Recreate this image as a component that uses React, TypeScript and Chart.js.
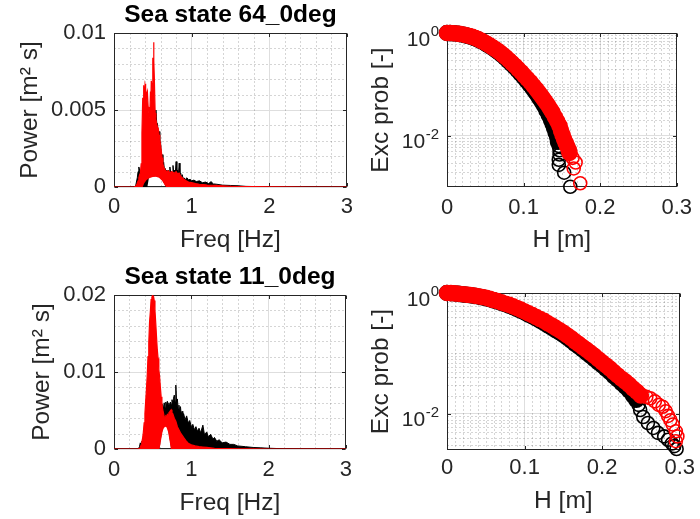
import React, { useEffect, useRef } from "react";
import { Chart, registerables } from "chart.js";

Chart.register(...registerables);

type Pt = [number, number];

const FONT = "'Liberation Sans', Arial, Helvetica, sans-serif";
const TEXT = "#262626";
const RED = "#ff0000";
const BLACK = "#000000";
const GRID = "#dedede";
const MINOR = "rgba(0,0,0,0.33)";

// ---------- texts ----------
const title64 = "Sea state 64_0deg";
const title11 = "Sea state 11_0deg";
const freqLabel = "Freq [Hz]";
const powerLabel = "Power [m\u00b2 s]";
const heightLabel = "H [m]";
const probLabel = "Exc prob [-]";

// ---------- tick values ----------
const freqTicks = [0, 1, 2, 3];
const power64Ticks = [0, 0.005, 0.01];
const power11Ticks = [0, 0.01, 0.02];
const heightTicks = [0, 0.1, 0.2, 0.3];
const probTicks = [0.01, 1];

// ---------- Sea state 64 spectrum: envelopes of the dense trace [freq Hz, power m^2 s] ----------
const spec64RedUpper: Pt[] = [
  [0, 0], [0.26, 0], [0.28, 0.00005], [0.3, 0.00025], [0.31, 0.0004], [0.32, 0.0006], [0.33, 0.0008],
  [0.34, 0.0009], [0.35, 0.0015], [0.36, 0.0035], [0.37, 0.0058], [0.375, 0.005], [0.38, 0.0063],
  [0.385, 0.0066], [0.39, 0.006], [0.395, 0.0056], [0.4, 0.0066], [0.405, 0.0067], [0.41, 0.0064],
  [0.42, 0.0057], [0.425, 0.0061], [0.43, 0.0062], [0.44, 0.0052], [0.45, 0.0048], [0.46, 0.0045],
  [0.47, 0.0062], [0.475, 0.0056], [0.48, 0.0069], [0.49, 0.0065], [0.5, 0.0084], [0.505, 0.0078],
  [0.51, 0.0094], [0.515, 0.0082], [0.52, 0.007], [0.53, 0.0048], [0.54, 0.0044], [0.55, 0.0041],
  [0.56, 0.0039], [0.57, 0.0038], [0.58, 0.0034], [0.59, 0.0031], [0.6, 0.0027], [0.61, 0.0023],
  [0.62, 0.0019], [0.63, 0.0015], [0.64, 0.0013], [0.66, 0.0011], [0.68, 0.001], [0.7, 0.00105],
  [0.72, 0.0009], [0.74, 0.001], [0.76, 0.00095], [0.78, 0.0009], [0.8, 0.001], [0.82, 0.00085],
  [0.84, 0.0009], [0.86, 0.0007], [0.88, 0.0006], [0.9, 0.0005], [0.93, 0.0004], [0.96, 0.00032],
  [1.0, 0.00028], [1.05, 0.00022], [1.1, 0.00018], [1.15, 0.00016], [1.2, 0.00013], [1.3, 0.0001],
  [1.4, 0.00007], [1.5, 0.00005], [1.6, 0.00003], [1.8, 0.00002], [2.0, 0.00001], [2.5, 0], [3.0, 0],
];
const spec64RedLower: Pt[] = [
  [0, 0], [0.37, 0], [0.39, 0.00025], [0.42, 0.00045], [0.46, 0.00058], [0.5, 0.00065], [0.54, 0.00067],
  [0.58, 0.0006], [0.62, 0.0004], [0.65, 0.00015], [0.67, 0], [3.0, 0],
];
const spec64BlackUpper: Pt[] = [
  [0, 0], [0.26, 0], [0.28, 0.0001], [0.3, 0.0006], [0.31, 0.001], [0.32, 0.0013], [0.33, 0.0011],
  [0.34, 0.0008], [0.35, 0.0011], [0.36, 0.0008], [0.37, 0.001], [0.38, 0.0012], [0.39, 0.0009],
  [0.4, 0.0011], [0.41, 0.001], [0.42, 0.0009], [0.43, 0.0011], [0.44, 0.0012], [0.46, 0.0018],
  [0.48, 0.003], [0.5, 0.0042], [0.52, 0.0046], [0.53, 0.0046], [0.54, 0.005], [0.55, 0.0042],
  [0.56, 0.0041], [0.57, 0.0035], [0.58, 0.0036], [0.59, 0.0028], [0.6, 0.0029], [0.61, 0.002],
  [0.62, 0.0021], [0.63, 0.0014], [0.64, 0.0016], [0.65, 0.0011], [0.66, 0.0012], [0.67, 0.001],
  [0.68, 0.0011], [0.69, 0.0009], [0.7, 0.0011], [0.71, 0.0009], [0.72, 0.0013], [0.73, 0.0009],
  [0.74, 0.001], [0.75, 0.0009], [0.76, 0.0014], [0.77, 0.0009], [0.78, 0.0011], [0.79, 0.0009],
  [0.8, 0.00165], [0.81, 0.0009], [0.82, 0.0011], [0.83, 0.0008], [0.84, 0.00155], [0.85, 0.0008],
  [0.86, 0.0009], [0.87, 0.0006], [0.88, 0.0008], [0.89, 0.0005], [0.9, 0.0006], [0.92, 0.0005],
  [0.94, 0.0006], [0.96, 0.00045], [0.98, 0.0005], [1.0, 0.0004], [1.03, 0.00045], [1.06, 0.00035],
  [1.1, 0.0004], [1.14, 0.00028], [1.18, 0.00032], [1.22, 0.00022], [1.25, 0.00035], [1.28, 0.0002],
  [1.32, 0.00018], [1.4, 0.00012], [1.5, 0.0001], [1.6, 0.00008], [1.7, 0.00004], [1.8, 0.00003],
  [2.0, 0.00002], [2.5, 0.00001], [3.0, 0],
];
const spec64BlackLower: Pt[] = [
  [0, 0], [0.43, 0], [0.45, 0.0006], [0.5, 0.0007], [0.54, 0.0007], [0.58, 0.00065], [0.62, 0.00045],
  [0.65, 0.0002], [0.67, 0], [3.0, 0],
];

// ---------- Sea state 11 spectrum ----------
const spec11RedUpper: Pt[] = [
  [0, 0], [0.3, 0], [0.33, 0.00005], [0.34, 0.0002], [0.35, 0.0005], [0.36, 0.0009], [0.37, 0.0014],
  [0.38, 0.0022], [0.39, 0.0034], [0.4, 0.0046], [0.41, 0.0062], [0.42, 0.0078], [0.43, 0.0096],
  [0.44, 0.012], [0.45, 0.0138], [0.46, 0.0165], [0.47, 0.0178], [0.48, 0.0194], [0.49, 0.0197],
  [0.5, 0.02], [0.505, 0.0192], [0.51, 0.0199], [0.52, 0.0193], [0.53, 0.018], [0.54, 0.0164],
  [0.55, 0.0146], [0.56, 0.0129], [0.57, 0.0118], [0.58, 0.0103], [0.59, 0.0094], [0.6, 0.008],
  [0.61, 0.0068], [0.62, 0.006], [0.63, 0.0051], [0.64, 0.0047], [0.65, 0.0042], [0.66, 0.0041],
  [0.67, 0.0043], [0.68, 0.0042], [0.69, 0.0045], [0.7, 0.0044], [0.71, 0.0047], [0.72, 0.0048],
  [0.73, 0.005], [0.74, 0.0051], [0.75, 0.0047], [0.76, 0.0046], [0.78, 0.004], [0.8, 0.0036],
  [0.82, 0.0029], [0.84, 0.0025], [0.86, 0.0021], [0.88, 0.0018], [0.9, 0.0015], [0.93, 0.0011],
  [0.96, 0.00075], [1.0, 0.00055], [1.05, 0.0004], [1.1, 0.0003], [1.15, 0.00025], [1.2, 0.0002],
  [1.3, 0.0001], [1.4, 0.00006], [1.5, 0.00004], [1.6, 0.00002], [1.8, 0.00001], [2.0, 0], [3.0, 0],
];
const spec11RedLower: Pt[] = [
  [0, 0], [0.59, 0], [0.6, 0.0006], [0.61, 0.0012], [0.62, 0.0018], [0.63, 0.0023], [0.64, 0.0026],
  [0.65, 0.0028], [0.66, 0.0029], [0.67, 0.0029], [0.68, 0.0028], [0.7, 0.0022], [0.72, 0.001],
  [0.735, 0], [3.0, 0],
];
const spec11BlackUpper: Pt[] = [
  [0, 0], [0.3, 0], [0.32, 0.0001], [0.33, 0.0003], [0.34, 0.0008], [0.35, 0.0005], [0.36, 0.001],
  [0.37, 0.0007], [0.38, 0.0012], [0.4, 0.0015], [0.45, 0.003], [0.5, 0.004], [0.55, 0.0045],
  [0.58, 0.005], [0.6, 0.0052], [0.61, 0.0056], [0.62, 0.005], [0.63, 0.0058], [0.64, 0.0052],
  [0.65, 0.006], [0.66, 0.0054], [0.67, 0.0061], [0.68, 0.0056], [0.69, 0.0062], [0.7, 0.0057],
  [0.71, 0.006], [0.72, 0.0055], [0.73, 0.0061], [0.74, 0.0058], [0.75, 0.0064], [0.76, 0.006],
  [0.77, 0.0066], [0.78, 0.007], [0.79, 0.0062], [0.8, 0.0083], [0.81, 0.006], [0.82, 0.0065],
  [0.83, 0.0052], [0.84, 0.0057], [0.85, 0.0048], [0.86, 0.0055], [0.87, 0.0044], [0.88, 0.0049],
  [0.89, 0.004], [0.9, 0.0046], [0.92, 0.0038], [0.94, 0.0043], [0.96, 0.0034], [0.98, 0.0037],
  [1.0, 0.0029], [1.02, 0.0032], [1.04, 0.0025], [1.06, 0.0029], [1.08, 0.0023], [1.1, 0.0027],
  [1.12, 0.0021], [1.15, 0.0031], [1.17, 0.0019], [1.2, 0.0022], [1.22, 0.0016], [1.25, 0.0019],
  [1.28, 0.0013], [1.3, 0.0015], [1.33, 0.001], [1.36, 0.0012], [1.4, 0.0008], [1.45, 0.0009],
  [1.5, 0.0006], [1.55, 0.0006], [1.6, 0.0004], [1.7, 0.0003], [1.8, 0.0002], [1.9, 0.00015],
  [2.0, 0.0001], [2.2, 0.00003], [2.5, 0.00001], [3.0, 0],
];
const spec11BlackLower: Pt[] = [
  [0, 0], [0.585, 0], [0.6, 0.0009], [0.62, 0.0021], [0.64, 0.0029], [0.66, 0.0032], [0.68, 0.0031],
  [0.7, 0.0025], [0.72, 0.0013], [0.74, 0], [3.0, 0],
];

// ---------- Sea state 64 exceedance probability [H m, prob] ----------
const exc64RedDense: Pt[] = [
  [0, 1], [0.004, 0.997], [0.008, 0.99], [0.012, 0.978], [0.016, 0.962], [0.021, 0.935], [0.025, 0.905],
  [0.029, 0.875], [0.033, 0.84], [0.037, 0.8], [0.041, 0.755], [0.045, 0.705], [0.049, 0.655],
  [0.053, 0.605], [0.057, 0.555], [0.061, 0.51], [0.065, 0.465], [0.069, 0.42], [0.073, 0.375],
  [0.077, 0.335], [0.081, 0.295], [0.085, 0.26], [0.089, 0.228], [0.093, 0.198], [0.097, 0.172],
  [0.101, 0.148], [0.105, 0.128], [0.109, 0.11], [0.113, 0.093], [0.117, 0.079], [0.12, 0.069],
  [0.123, 0.06], [0.126, 0.052], [0.129, 0.045], [0.132, 0.039], [0.135, 0.033], [0.138, 0.028],
  [0.141, 0.023], [0.144, 0.019], [0.147, 0.0155], [0.149, 0.0125], [0.151, 0.0102], [0.153, 0.0085],
  [0.155, 0.0072], [0.157, 0.0062], [0.159, 0.0053], [0.16, 0.0046],
];
const exc64RedTail: Pt[] = [[0.164, 0.0037], [0.168, 0.003], [0.1655, 0.0023], [0.174, 0.00118]];
const exc64BlackDense: Pt[] = [
  [0, 1], [0.004, 0.996], [0.008, 0.989], [0.012, 0.976], [0.016, 0.959], [0.02, 0.932], [0.024, 0.903],
  [0.028, 0.872], [0.032, 0.836], [0.036, 0.796], [0.04, 0.752], [0.044, 0.703], [0.048, 0.653],
  [0.052, 0.603], [0.056, 0.553], [0.06, 0.507], [0.064, 0.46], [0.068, 0.414], [0.072, 0.369],
  [0.076, 0.327], [0.08, 0.287], [0.084, 0.251], [0.088, 0.219], [0.092, 0.189], [0.096, 0.162],
  [0.1, 0.138], [0.104, 0.117], [0.108, 0.099], [0.112, 0.083], [0.115, 0.072], [0.118, 0.062],
  [0.121, 0.053], [0.124, 0.045], [0.127, 0.038], [0.13, 0.031], [0.133, 0.025], [0.136, 0.02],
  [0.138, 0.017], [0.14, 0.014], [0.142, 0.0115], [0.144, 0.0093], [0.145, 0.0076],
];
const exc64BlackTail: Pt[] = [
  [0.146, 0.0063], [0.147, 0.0052], [0.147, 0.0043], [0.146, 0.0034], [0.146, 0.0027], [0.153, 0.0019],
  [0.161, 0.00101],
];

// ---------- Sea state 11 exceedance probability ----------
const exc11RedDense: Pt[] = [
  [0, 1], [0.005, 0.995], [0.01, 0.985], [0.015, 0.97], [0.02, 0.955], [0.025, 0.94], [0.03, 0.925],
  [0.035, 0.905], [0.04, 0.885], [0.045, 0.86], [0.05, 0.835], [0.055, 0.8], [0.06, 0.765],
  [0.065, 0.735], [0.07, 0.7], [0.075, 0.665], [0.08, 0.635], [0.085, 0.6], [0.09, 0.565],
  [0.095, 0.53], [0.1, 0.495], [0.105, 0.46], [0.11, 0.43], [0.115, 0.4], [0.12, 0.37],
  [0.125, 0.345], [0.13, 0.315], [0.135, 0.29], [0.14, 0.265], [0.145, 0.242], [0.15, 0.22],
  [0.155, 0.198], [0.16, 0.178], [0.165, 0.158], [0.17, 0.142], [0.175, 0.127], [0.18, 0.114],
  [0.185, 0.102], [0.19, 0.091], [0.195, 0.08], [0.2, 0.071], [0.205, 0.063], [0.21, 0.056],
  [0.215, 0.049], [0.22, 0.043], [0.225, 0.038], [0.23, 0.034], [0.235, 0.03], [0.24, 0.026],
  [0.245, 0.023], [0.25, 0.02],
];
const exc11RedTail: Pt[] = [
  [0.257, 0.019], [0.262, 0.018], [0.268, 0.016], [0.273, 0.014], [0.278, 0.013], [0.282, 0.011],
  [0.285, 0.0092], [0.288, 0.0078], [0.291, 0.0066], [0.295, 0.0051], [0.297, 0.0042], [0.295, 0.0035],
];
const exc11BlackDense: Pt[] = [
  [0, 1], [0.005, 0.993], [0.01, 0.982], [0.015, 0.967], [0.02, 0.95], [0.025, 0.934], [0.03, 0.917],
  [0.035, 0.897], [0.04, 0.876], [0.045, 0.85], [0.05, 0.823], [0.055, 0.79], [0.06, 0.755],
  [0.065, 0.722], [0.07, 0.687], [0.075, 0.651], [0.08, 0.618], [0.085, 0.583], [0.09, 0.547],
  [0.095, 0.511], [0.1, 0.476], [0.105, 0.44], [0.11, 0.41], [0.115, 0.378], [0.12, 0.348],
  [0.125, 0.321], [0.13, 0.292], [0.135, 0.266], [0.14, 0.242], [0.145, 0.222], [0.15, 0.203],
  [0.155, 0.182], [0.16, 0.162], [0.165, 0.144], [0.17, 0.129], [0.175, 0.115], [0.18, 0.102],
  [0.185, 0.091], [0.19, 0.08], [0.195, 0.071], [0.2, 0.063], [0.205, 0.055], [0.21, 0.049],
  [0.215, 0.042], [0.22, 0.037], [0.225, 0.032], [0.23, 0.028], [0.235, 0.024], [0.24, 0.02],
  [0.244, 0.017],
];
const exc11BlackTail: Pt[] = [
  [0.247, 0.014], [0.249, 0.0115], [0.253, 0.0088], [0.259, 0.007], [0.266, 0.0058], [0.272, 0.0048],
  [0.28, 0.0042], [0.285, 0.0037], [0.29, 0.0032], [0.293, 0.0029], [0.296, 0.0026],
];

// ---------- helpers ----------
const toXY = (a: Pt[]) => a.map(([x, y]) => ({ x, y }));

function linMinor(min: number, max: number, step: number, major: number[]) {
  const out: number[] = [];
  const n = Math.round((max - min) / step);
  for (let i = 1; i < n; i++) {
    const v = min + i * step;
    if (!major.some((m) => Math.abs(m - v) < step * 1e-3)) out.push(v);
  }
  return out;
}
function logMinor(min: number, max: number, major: number[]) {
  const out: number[] = [];
  for (let e = Math.floor(Math.log10(min)); e < Math.ceil(Math.log10(max)); e++) {
    for (let k = 1; k <= 9; k++) {
      const v = k * Math.pow(10, e);
      if (v <= min * 1.0001 || v >= max * 0.9999) continue;
      if (major.some((m) => Math.abs(m - v) / m < 1e-6)) continue;
      out.push(v);
    }
  }
  return out;
}

interface PanelCfg {
  title: string;
  titleY: number;
  xMinor: number[];
  yMinor: number[];
  logLabels: boolean;
  logLabelGap: number;
}

function panelPlugin(cfg: PanelCfg) {
  return {
    id: "matlabPanel",
    beforeDatasetsDraw(chart: any) {
      const { ctx, chartArea: a } = chart;
      const xs = chart.scales.x;
      const ys = chart.scales.y;
      const L = Math.round(a.left) + 0.5;
      const R = Math.round(a.right) - 0.5;
      const T = Math.round(a.top) + 0.5;
      const B = Math.round(a.bottom) - 0.5;
      ctx.save();
      ctx.strokeStyle = MINOR;
      ctx.lineWidth = 1;
      ctx.setLineDash([1, 3]);
      ctx.beginPath();
      for (const v of cfg.xMinor) {
        const px = Math.round(xs.getPixelForValue(v)) + 0.5;
        ctx.moveTo(px, T);
        ctx.lineTo(px, B);
      }
      for (const v of cfg.yMinor) {
        const py = Math.round(ys.getPixelForValue(v)) + 0.5;
        ctx.moveTo(L, py);
        ctx.lineTo(R, py);
      }
      ctx.stroke();
      ctx.setLineDash([]);
      ctx.strokeStyle = TEXT;
      ctx.lineWidth = 1;
      ctx.strokeRect(L, T, R - L, B - T);
      const tl = 3.5;
      ctx.beginPath();
      for (const t of xs.ticks) {
        const px = Math.round(xs.getPixelForValue(t.value)) + 0.5;
        ctx.moveTo(px, B);
        ctx.lineTo(px, B - tl);
        ctx.moveTo(px, T);
        ctx.lineTo(px, T + tl);
      }
      for (const t of ys.ticks) {
        const py = Math.round(ys.getPixelForValue(t.value)) + 0.5;
        ctx.moveTo(L, py);
        ctx.lineTo(L + tl, py);
        ctx.moveTo(R, py);
        ctx.lineTo(R - tl, py);
      }
      ctx.stroke();
      ctx.restore();
    },
    afterDraw(chart: any) {
      const { ctx, chartArea: a } = chart;
      const ys = chart.scales.y;
      ctx.save();
      ctx.fillStyle = BLACK;
      ctx.font = `bold 24.5px ${FONT}`;
      ctx.textAlign = "center";
      ctx.textBaseline = "middle";
      if (cfg.title) ctx.fillText(cfg.title, (a.left + a.right) / 2, cfg.titleY);
      if (cfg.logLabels) {
        ctx.fillStyle = TEXT;
        for (const t of ys.ticks) {
          const y = ys.getPixelForValue(t.value);
          const exp = String(Math.round(Math.log10(t.value)));
          const right = a.left - cfg.logLabelGap;
          ctx.font = `15px ${FONT}`;
          const w2 = ctx.measureText(exp).width;
          ctx.textAlign = "left";
          ctx.fillText(exp, right - w2, y - 1);
          ctx.font = `21px ${FONT}`;
          ctx.textAlign = "right";
          ctx.fillText("10", right - w2 - 0.5, y + 7);
        }
      }
      ctx.restore();
    },
  };
}

interface Layout {
  padTop: number;
  padRight: number;
  yAxisW: number;
  xAxisH: number;
  xTickPad: number;
  xTitlePad: number;
  yTickPad: number;
  yTitlePad: number;
  titleY: number;
}

const tickFont = { family: FONT, size: 22 };
const labelFont = { family: FONT, size: 24.5 };

function axisX(ticks: number[], max: number, label: string, lay: Layout) {
  return {
    type: "linear",
    min: 0,
    max,
    afterBuildTicks: (s: any) => {
      s.ticks = ticks.map((v) => ({ value: v }));
    },
    afterFit: (s: any) => {
      s.height = lay.xAxisH;
    },
    ticks: {
      callback: (v: number) => String(v),
      font: tickFont,
      color: TEXT,
      padding: lay.xTickPad,
      maxRotation: 0,
      minRotation: 0,
      autoSkip: false,
    },
    grid: { color: GRID, lineWidth: 1, drawTicks: false },
    border: { display: false },
    title: { display: true, text: label, font: labelFont, color: TEXT, padding: { top: 0, bottom: lay.xTitlePad } },
  };
}

function spectrumConfig(
  redUpper: Pt[], redLower: Pt[], blackUpper: Pt[], blackLower: Pt[],
  yTicks: number[], yMax: number, yMinorStep: number, title: string, lay: Layout
) {
  const line = (d: Pt[], color: string, fill: number | boolean, width: number) => ({
    data: toXY(d),
    borderColor: color,
    backgroundColor: color,
    borderWidth: width,
    pointRadius: 0,
    tension: 0,
    fill,
  });
  return {
    type: "line",
    data: {
      datasets: [
        line(redUpper, RED, 1, 1.2),
        line(redLower, "rgba(0,0,0,0)", false, 0),
        line(blackUpper, BLACK, 3, 1),
        line(blackLower, "rgba(0,0,0,0)", false, 0),
      ],
    },
    options: {
      animation: false,
      responsive: false,
      events: [],
      layout: { padding: { top: lay.padTop, right: lay.padRight, left: 0, bottom: 0 } },
      plugins: { legend: { display: false }, tooltip: { enabled: false } },
      scales: {
        x: axisX(freqTicks, 3, freqLabel, lay),
        y: {
          type: "linear",
          min: 0,
          max: yMax,
          afterBuildTicks: (s: any) => {
            s.ticks = yTicks.map((v) => ({ value: v }));
          },
          afterFit: (s: any) => {
            s.width = lay.yAxisW;
          },
          ticks: { callback: (v: number) => String(v), font: tickFont, color: TEXT, padding: lay.yTickPad },
          grid: { color: GRID, lineWidth: 1, drawTicks: false },
          border: { display: false },
          title: { display: true, text: powerLabel, font: labelFont, color: TEXT, padding: { top: lay.yTitlePad, bottom: 0 } },
        },
      },
    },
    plugins: [
      panelPlugin({
        title,
        titleY: lay.titleY,
        xMinor: linMinor(0, 3, 0.2, freqTicks),
        yMinor: linMinor(0, yMax, yMinorStep, yTicks),
        logLabels: false,
        logLabelGap: 0,
      }),
    ],
  };
}

function excConfig(
  redDense: Pt[], redTail: Pt[], blackDense: Pt[], blackTail: Pt[], yMin: number, lay: Layout
) {
  const pts = (d: Pt[], color: string, filled: boolean) => ({
    data: toXY(d),
    pointRadius: filled ? 7.5 : 6.5,
    pointBorderWidth: 1.6,
    pointBorderColor: color,
    pointBackgroundColor: filled ? color : "rgba(0,0,0,0)",
    showLine: false,
    clip: false,
  });
  return {
    type: "scatter",
    data: {
      datasets: [
        pts(redTail, RED, false),
        pts(redDense, RED, true),
        pts(blackTail, BLACK, false),
        pts(blackDense, BLACK, true),
      ],
    },
    options: {
      animation: false,
      responsive: false,
      events: [],
      layout: { padding: { top: lay.padTop, right: lay.padRight, left: 0, bottom: 0 } },
      plugins: { legend: { display: false }, tooltip: { enabled: false } },
      scales: {
        x: axisX(heightTicks, 0.3, heightLabel, lay),
        y: {
          type: "logarithmic",
          min: yMin,
          max: 1,
          afterBuildTicks: (s: any) => {
            s.ticks = probTicks.map((v) => ({ value: v }));
          },
          afterFit: (s: any) => {
            s.width = lay.yAxisW;
          },
          ticks: { display: false },
          grid: { color: GRID, lineWidth: 1, drawTicks: false },
          border: { display: false },
          title: { display: true, text: probLabel, font: labelFont, color: TEXT, padding: { top: lay.yTitlePad, bottom: 0 } },
        },
      },
    },
    plugins: [
      panelPlugin({
        title: "",
        titleY: lay.titleY,
        xMinor: linMinor(0, 0.3, 0.01, heightTicks),
        yMinor: logMinor(yMin, 1, probTicks),
        logLabels: true,
        logLabelGap: 8,
      }),
    ],
  };
}

function Panel(props: { left: number; top: number; width: number; height: number; make: () => any }) {
  const ref = useRef<HTMLCanvasElement>(null);
  useEffect(() => {
    const chart = new Chart(ref.current as HTMLCanvasElement, props.make());
    return () => chart.destroy();
  }, []);
  return (
    <canvas
      ref={ref}
      width={props.width}
      height={props.height}
      style={{ position: "absolute", left: props.left, top: props.top, width: props.width, height: props.height }}
    />
  );
}

const layTL: Layout = { padTop: 33, padRight: 11, yAxisW: 114, xAxisH: 69, xTickPad: 7, xTitlePad: 1, yTickPad: 8, yTitlePad: 16, titleY: 15 };
const layBL: Layout = { padTop: 35, padRight: 11, yAxisW: 114, xAxisH: 70, xTickPad: 8, xTitlePad: 1, yTickPad: 8, yTitlePad: 28, titleY: 17 };
const layTR: Layout = { padTop: 33, padRight: 18, yAxisW: 87, xAxisH: 69, xTickPad: 8, xTitlePad: 1, yTickPad: 0, yTitlePad: 7, titleY: 0 };
const layBR: Layout = { padTop: 33, padRight: 18, yAxisW: 87, xAxisH: 69, xTickPad: 5, xTitlePad: 3, yTickPad: 0, yTitlePad: 7, titleY: 0 };

export default function App() {
  return (
    <div style={{ position: "absolute", left: 0, top: 0, width: 700, height: 519, background: "#fff" }}>
      <Panel left={0} top={0} width={360} height={256}
        make={() => spectrumConfig(spec64RedUpper, spec64RedLower, spec64BlackUpper, spec64BlackLower, power64Ticks, 0.01, 0.001, title64, layTL)} />
      <Panel left={360} top={0} width={340} height={256}
        make={() => excConfig(exc64RedDense, exc64RedTail, exc64BlackDense, exc64BlackTail, 0.001, layTR)} />
      <Panel left={0} top={260} width={360} height={259}
        make={() => spectrumConfig(spec11RedUpper, spec11RedLower, spec11BlackUpper, spec11BlackLower, power11Ticks, 0.02, 0.002, title11, layBL)} />
      <Panel left={360} top={260} width={340} height={259}
        make={() => excConfig(exc11RedDense, exc11RedTail, exc11BlackDense, exc11BlackTail, 0.0025, layBR)} />
    </div>
  );
}
